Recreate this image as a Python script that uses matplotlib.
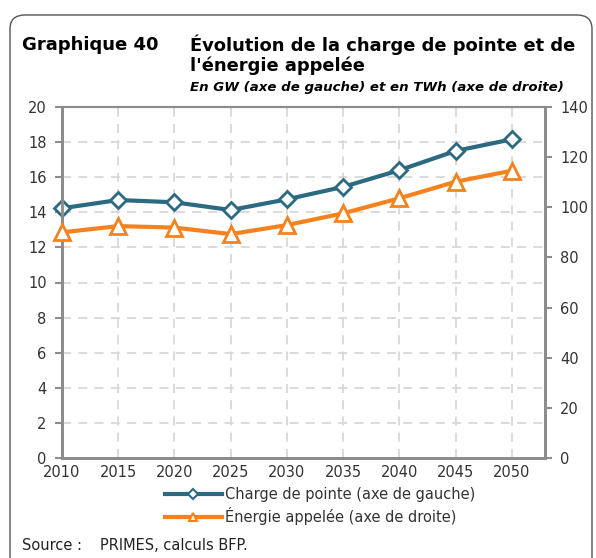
import numpy as np
import matplotlib.pyplot as plt
from matplotlib.patches import FancyBboxPatch
from matplotlib.lines import Line2D

plt.rcParams['font.family'] = ['DejaVu Sans']

years = [2010, 2015, 2020, 2025, 2030, 2035, 2040, 2045, 2050]
charge_pointe = [14.23, 14.7, 14.57, 14.13, 14.74, 15.45, 16.4, 17.5, 18.16]   # GW
energie_appelee = [90.0, 92.5, 91.9, 89.3, 92.9, 97.6, 103.6, 110.2, 114.6]    # TWh

blue = '#2b6a80'
orange = '#f5821f'
axis_grey = '#8c8c8c'
grid_grey = '#d8d8d8'

fig = plt.figure(figsize=(5.96, 5.58), dpi=100)
W, H = 596, 558

# rounded frame around the whole chart
frame = FancyBboxPatch((10 / W, -20 / H), 582 / W, (H - 15 + 20) / H,
                       boxstyle='round,pad=0,rounding_size=0.025',
                       transform=fig.transFigure, fill=False,
                       edgecolor='#555555', linewidth=1.0, clip_on=False)
fig.patches.append(frame)

fig.text(22 / W, 1 - 45 / H, 'Graphique 40', fontsize=13, fontweight='bold',
         va='center', ha='left')
fig.text(190 / W, 1 - 45 / H, 'Évolution de la charge de pointe et de',
         fontsize=12.9, fontweight='bold', va='center', ha='left')
fig.text(190 / W, 1 - 66 / H, "l'énergie appelée", fontsize=12.9,
         fontweight='bold', va='center', ha='left')
fig.text(190 / W, 1 - 87 / H, 'En GW (axe de gauche) et en TWh (axe de droite)',
         fontsize=9.6, fontweight='bold', style='italic', va='center', ha='left')

ax = fig.add_axes([62 / W, 1 - 458 / H, (545 - 62) / W, (458 - 107) / H])
ax2 = ax.twinx()

ax.set_xlim(2010, 2010 + (545 - 62) / 56.25 * 5)
ax.set_ylim(0, 20)
ax2.set_ylim(0, 140)

ax.set_xticks(years)
ax.set_yticks(np.arange(0, 21, 2))
ax2.set_yticks(np.arange(0, 141, 20))

# dashed grid
for y in np.arange(2, 20, 2):
    ax.axhline(y, color=grid_grey, linestyle=(0, (5, 4)), linewidth=1.3, zorder=0)
for x in years[1:]:
    ax.axvline(x, color=grid_grey, linestyle=(0, (5, 4)), linewidth=1.3, zorder=0)

ax.plot(years, charge_pointe, color=blue, linewidth=3, marker='D',
        markersize=8, markerfacecolor='white', markeredgecolor=blue,
        markeredgewidth=2, zorder=3, clip_on=False)
ax2.plot(years, energie_appelee, color=orange, linewidth=3, marker='^',
         markersize=11, markerfacecolor='white', markeredgecolor=orange,
         markeredgewidth=2, zorder=3, clip_on=False)

for a in (ax, ax2):
    for s in a.spines.values():
        s.set_color(axis_grey)
        s.set_linewidth(2)
    a.spines['top'].set_linewidth(1.5)
    a.tick_params(colors=axis_grey, labelcolor='#333333', labelsize=10.5,
                  width=1.5, length=5)

ax.tick_params(axis='x', length=0, pad=5)
ax.tick_params(axis='y', pad=6)
ax2.tick_params(axis='y', pad=6)
ax.set_xticklabels([str(y) for y in years])

legend_handles = [
    Line2D([], [], color=blue, linewidth=3, marker='D', markersize=5,
           markerfacecolor='white', markeredgecolor=blue, markeredgewidth=1.5),
    Line2D([], [], color=orange, linewidth=3, marker='^', markersize=6,
           markerfacecolor='white', markeredgecolor=orange, markeredgewidth=1.5),
]
fig.legend(legend_handles,
           ['Charge de pointe (axe de gauche)', 'Énergie appelée (axe de droite)'],
           loc='center left', bbox_to_anchor=(165 / W, 1 - 506 / H),
           frameon=False, fontsize=10.5, handlelength=3.9, handletextpad=0.2,
           labelspacing=0.35, labelcolor='#333333', borderaxespad=0,
           borderpad=0)

fig.text(22 / W, 1 - 546 / H, 'Source :', fontsize=10.5, va='center',
         ha='left', color='#222222')
fig.text(100 / W, 1 - 546 / H, 'PRIMES, calculs BFP.', fontsize=10.5,
         va='center', ha='left', color='#222222')

fig.savefig('out.png', dpi=100)
